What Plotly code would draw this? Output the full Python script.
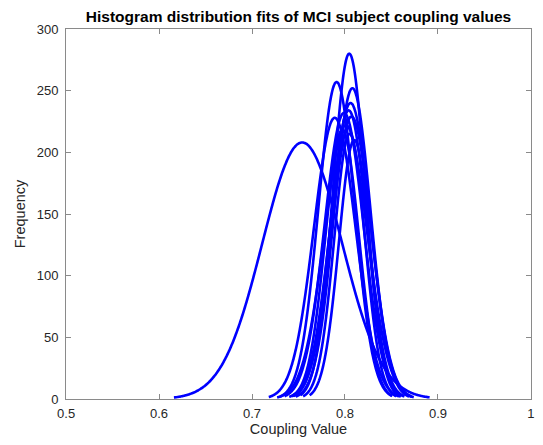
import numpy as np
import plotly.graph_objects as go

# Normal-fit parameters (one entry per subject)
fit_mean = [0.754, 0.8046, 0.791, 0.808, 0.806, 0.804, 0.799, 0.807, 0.789, 0.801, 0.805, 0.810, 0.797]
fit_sd   = [0.043, 0.0175, 0.0195, 0.0195, 0.021, 0.0195, 0.021, 0.021, 0.0225, 0.023, 0.0165, 0.0165, 0.018]
fit_peak = [208, 280, 257, 252, 240, 234, 232, 229, 228, 222, 215, 210, 218]
fit_lo   = [0.616, 0.752, 0.730, 0.747, 0.740, 0.745, 0.735, 0.743, 0.718, 0.727, 0.755, 0.762, 0.743]
fit_hi   = [0.891, 0.860, 0.850, 0.869, 0.872, 0.864, 0.863, 0.871, 0.858, 0.874, 0.855, 0.860, 0.851]

x_ticks = [0.5, 0.6, 0.7, 0.8, 0.9, 1.0]
x_tick_labels = ["0.5", "0.6", "0.7", "0.8", "0.9", "1"]
y_ticks = [0, 50, 100, 150, 200, 250, 300]

fig = go.Figure()
for mu, sd, pk, lo, hi in zip(fit_mean, fit_sd, fit_peak, fit_lo, fit_hi):
    xs = np.linspace(lo, hi, 300)
    ys = pk * np.exp(-0.5 * ((xs - mu) / sd) ** 2)
    fig.add_trace(go.Scatter(x=xs, y=ys, mode="lines",
                             line=dict(color="rgb(0,0,255)", width=2.6, shape="spline"),
                             showlegend=False, hoverinfo="skip"))

axis_common = dict(showline=True, linecolor="#8a8a8a", linewidth=1, mirror="ticks",
                   ticks="inside", ticklen=5, tickcolor="#8a8a8a", tickwidth=1,
                   showgrid=False, zeroline=False,
                   tickfont=dict(family="Liberation Sans, Arial", size=13, color="#262626"))

# The page body has an 8px margin, so the figure is sized to fit the 543x445 window.
W, H = 535, 437
fig.update_layout(
    width=W, height=H,
    margin=dict(l=58, r=8, t=21, b=46),
    paper_bgcolor="white", plot_bgcolor="white",
    title=dict(text="<b>Histogram distribution fits of MCI subject coupling values</b>",
               x=0.5, xref="paper", xanchor="center",
               y=1 - 8.5 / H, yref="container", yanchor="middle",
               font=dict(family="Liberation Sans, Arial", size=15.5, color="black")),
    xaxis=dict(range=[0.4999, 1.0001], tickvals=x_ticks, ticktext=x_tick_labels,
               ticklabelstandoff=2, ticklabeloverflow="allow",
               title=dict(text="Coupling Value", standoff=4,
                          font=dict(family="Liberation Sans, Arial", size=14.5, color="#262626")),
               **axis_common),
    yaxis=dict(range=[0, 300], tickvals=y_ticks, ticklabelstandoff=4,
               title=dict(text="Frequency", standoff=7,
                          font=dict(family="Liberation Sans, Arial", size=14.5, color="#262626")),
               **axis_common),
)

fig.write_html("out.html")
